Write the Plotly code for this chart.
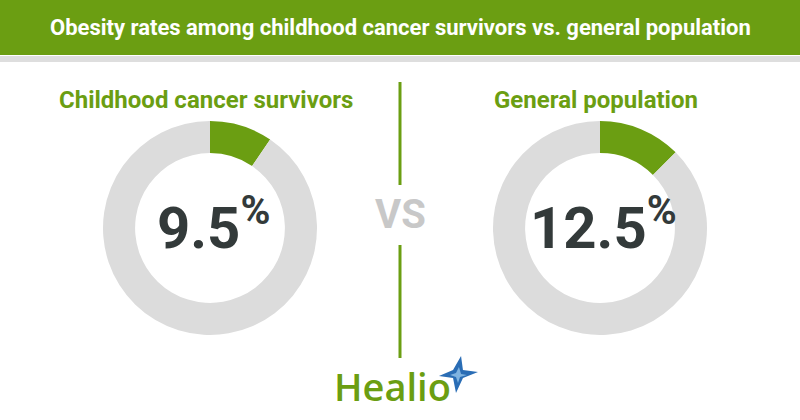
import plotly.graph_objects as go

title = "Obesity rates among childhood cancer survivors vs. general population"
groups = ["Childhood cancer survivors", "General population"]
rates = [9.5, 12.5]
labels = ["9.5", "12.5"]

GREEN = "#6b9e12"
GRAY = "#dcdcdc"
DARK = "#333a3a"

fig = go.Figure()

W, H = 800, 420
centers_x = [210, 600]
cy = 228
R = 107


def ann(x, y, text, font, **kw):
    fig.add_annotation(x=x / W, y=1 - y / H, xref="paper", yref="paper", text=text,
                       showarrow=False, xanchor="center", yanchor="middle", font=font, **kw)


for i, (g, r) in enumerate(zip(groups, rates)):
    cx = centers_x[i]
    fig.add_trace(go.Pie(
        values=[r, 100 - r],
        labels=[g + " obese", g + " not obese"],
        hole=0.70,
        sort=False,
        direction="clockwise",
        rotation=0,
        marker=dict(colors=[GREEN, GRAY], line=dict(width=0)),
        textinfo="none",
        hoverinfo="skip",
        showlegend=False,
        domain=dict(x=[(cx - R) / W, (cx + R) / W], y=[(H - cy - R) / H, (H - cy + R) / H]),
    ))
    ann(cx - 4, 100, "<b>" + g + "</b>", dict(family="Roboto", size=24, color=GREEN))
    ann(cx + 3, 224, "<b>" + labels[i] + "</b><sup><b>%</b></sup>",
        dict(family="Roboto", size=58, color=DARK))

shapes = [
    dict(type="rect", xref="paper", yref="paper", x0=0, x1=1, y0=1 - 55 / H, y1=1,
         fillcolor=GREEN, line=dict(width=0), layer="below"),
    dict(type="rect", xref="paper", yref="paper", x0=0, x1=1, y0=1 - 62 / H, y1=1 - 56 / H,
         fillcolor="#dedede", line=dict(width=0), layer="below"),
    dict(type="line", xref="paper", yref="paper", x0=0.5, x1=0.5, y0=1 - 185 / H, y1=1 - 82 / H,
         line=dict(color=GREEN, width=3)),
    dict(type="line", xref="paper", yref="paper", x0=0.5, x1=0.5, y0=1 - 358 / H, y1=1 - 245 / H,
         line=dict(color=GREEN, width=3)),
]


def P(x, y):
    return f"{x/W:.4f},{1 - y/H:.4f}"


# Healio star (approximation)
sx, sy = 458, 375
star = ("M " + P(sx + 3, sy - 19) + " L " + P(sx + 5, sy - 5) + " L " + P(sx + 20, sy - 3) + " L " +
        P(sx + 5, sy + 3) + " L " + P(sx - 2, sy + 18) + " L " + P(sx - 5, sy + 3) + " L " +
        P(sx - 19, sy + 1) + " L " + P(sx - 5, sy - 5) + " Z")
shapes.append(dict(type="path", xref="paper", yref="paper", path=star,
                   fillcolor="#2a6db5", line=dict(width=0)))
inner = ("M " + P(sx + 1, sy - 8) + " L " + P(sx + 3, sy - 1) + " L " + P(sx + 9, sy) + " L " +
         P(sx + 2, sy + 2) + " L " + P(sx, sy + 8) + " L " + P(sx - 2, sy + 2) + " L " +
         P(sx - 8, sy) + " L " + P(sx - 2, sy - 2) + " Z")
shapes.append(dict(type="path", xref="paper", yref="paper", path=inner,
                   fillcolor="#7fb3e0", line=dict(width=0)))
fig.update_layout(shapes=shapes)

ann(400, 28, "<b>" + title + "</b>",
    dict(family="Liberation Sans Narrow, Roboto", size=22, color="white"))
ann(400, 214, "<b>VS</b>", dict(family="Roboto", size=40, color="#c8c8c8"))
ann(392, 386, "Healio", dict(family="Open Sans", size=38, color=GREEN, weight=600))

fig.update_layout(width=W, height=H, margin=dict(l=0, r=0, t=0, b=0),
                  paper_bgcolor="white", plot_bgcolor="white")
fig.write_html("out.html")
